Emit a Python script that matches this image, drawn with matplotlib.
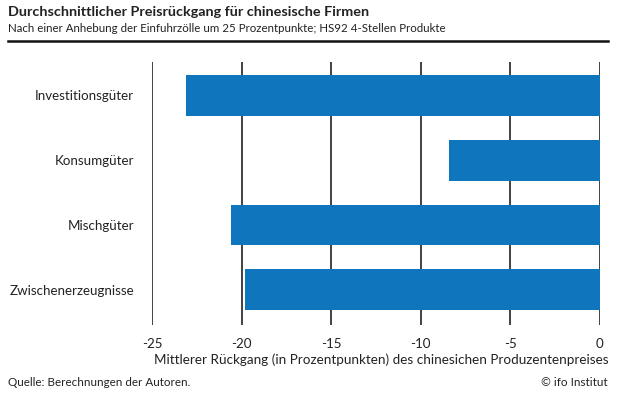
import matplotlib
matplotlib.use("Agg")
from matplotlib import pyplot as plt

categories = ["Investitionsgüter", "Konsumgüter", "Mischgüter", "Zwischenerzeugnisse"]
values = [-23.1, -8.4, -20.6, -19.8]
xticks = [-25, -20, -15, -10, -5, 0]

title = "Durchschnittlicher Preisrückgang für chinesische Firmen"
subtitle = "Nach einer Anhebung der Einfuhrzölle um 25 Prozentpunkte; HS92 4-Stellen Produkte"
xlabel = "Mittlerer Rückgang (in Prozentpunkten) des chinesichen Produzentenpreises"
source = "Quelle: Berechnungen der Autoren."
credit = "© ifo Institut"

plt.rcParams['font.family'] = ['Lato', 'DejaVu Sans']
W, H = 617, 396
fig = plt.figure(figsize=(W / 100, H / 100), dpi=100)

# plot area in pixel coordinates
left, right, top, bottom = 152, 600, 62, 325
ax = fig.add_axes([left / W, 1 - bottom / H, (right - left) / W, (bottom - top) / H])

ax.barh(range(len(categories)), values, height=0.63, color="#0f75bc", zorder=3)
ax.set_xlim(-25, 0)
ax.set_ylim(3.54, -0.51)
ax.set_xticks(xticks)
ax.set_xticklabels([str(v) for v in xticks])
ax.set_yticks(range(len(categories)))
ax.set_yticklabels(categories)
ax.tick_params(axis='both', length=0, labelsize=9.6, colors="#222222")
ax.tick_params(axis='x', pad=9)
ax.tick_params(axis='y', pad=13)
ax.grid(axis='x', color="#333333", linewidth=1.3, zorder=1)
for sp in ax.spines.values():
    sp.set_visible(False)

fig.text(609 / W, 1 - 360 / H, xlabel, fontsize=9.7, color="#222222", va='center', ha='right')
fig.text(8 / W, 1 - 12 / H, title, fontsize=10.4, fontweight='bold', color="#222222", va='center')
fig.text(8 / W, 1 - 29 / H, subtitle, fontsize=8.3, color="#222222", va='center')
fig.add_artist(plt.Line2D([8 / W, 608 / W], [1 - 41 / H, 1 - 41 / H], color="#111111", linewidth=1.8))
fig.text(8 / W, 1 - 382 / H, source, fontsize=8.4, color="#222222", va='center')
fig.text(608 / W, 1 - 382 / H, credit, fontsize=8.5, color="#222222", va='center', ha='right')

fig.savefig("out.png", dpi=100)
